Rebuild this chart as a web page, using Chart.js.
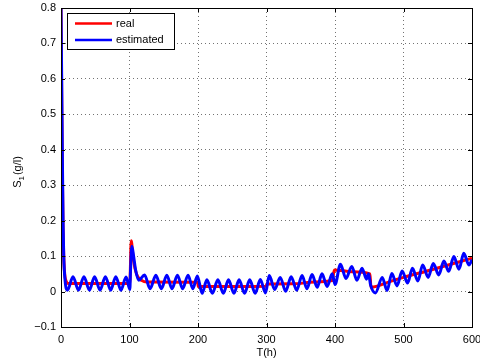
<!DOCTYPE html>
<html lang="en">
<head>
    <meta charset="UTF-8">
    <title>S1 real vs estimated</title>
    <script src="https://cdn.jsdelivr.net/npm/chart.js"></script>
    <style>
        html, body { margin: 0; padding: 0; background: #ffffff; }
        #wrap { width: 480px; height: 360px; }
    </style>
</head>
<body>
<div id="wrap"><canvas id="s1Chart" width="480" height="360"></canvas></div>
<script>
    // real substrate concentration
    const realT = [0, 1, 2, 3, 4, 5, 6, 8, 10, 100.5, 102.5, 105, 108, 112, 118, 125, 199.5, 200.5,
        299.5, 300.5, 340, 370, 396, 399, 425, 451, 452.5, 480, 500, 540, 578, 600];
    const realS = [0.8, 0.55, 0.33, 0.18, 0.1, 0.06, 0.04, 0.027, 0.023, 0.023, 0.143, 0.1, 0.065, 0.042, 0.031, 0.027, 0.026, 0.014,
        0.015, 0.021, 0.022, 0.027, 0.031, 0.061, 0.056, 0.05, 0.012, 0.028, 0.04, 0.061, 0.082, 0.094];

    // estimated (oscillating) - peaks and troughs
    const estT = [0, 1, 2, 3, 4, 6, 9.5, 17.5, 25.5, 33.5, 41.5, 49, 57, 64.8, 72.5, 80, 87.5, 95, 100.5,
        101.5, 103.5, 106, 109, 113.5, 122, 130, 138.5, 146.5, 154.5, 162, 170, 177.5, 185.5, 192.5, 199, 206,
        213, 221, 229, 237, 244.5, 252.5, 260, 268, 275.5, 283.5, 291, 298.5,
        304, 312, 320, 328, 336, 344, 352, 359, 366.5, 374, 381, 388.5, 396, 400,
        408, 416, 424.5, 432, 439.5, 446, 449, 452, 459, 469, 476, 483, 490.5, 498, 506,
        513, 521, 528, 536, 543.5, 551.5, 559, 566, 573.5, 581, 588, 595.5, 600];
    const estS = [0.8, 0.6, 0.38, 0.2, 0.1, 0.03, 0.004, 0.042, 0.004, 0.042, 0.004, 0.042, 0.004, 0.042, 0.004, 0.042, 0.004, 0.041, 0.006,
        0.06, 0.128, 0.1, 0.06, 0.032, 0.047, 0.008, 0.046, 0.008, 0.046, 0.008, 0.046, 0.008, 0.046, 0.008, 0.044, -0.005,
        0.033, -0.005, 0.033, -0.005, 0.033, -0.005, 0.033, -0.005, 0.033, -0.005, 0.034, -0.004,
        0.045, 0.006, 0.04, 0.001, 0.042, 0.004, 0.045, 0.008, 0.048, 0.012, 0.05, 0.014, 0.05, 0.02,
        0.077, 0.037, 0.071, 0.032, 0.066, 0.035, 0.05, 0.018, -0.004, 0.04, 0.003, 0.051, 0.016, 0.058, 0.024,
        0.066, 0.03, 0.075, 0.04, 0.079, 0.047, 0.086, 0.057, 0.099, 0.063, 0.108, 0.075, 0.09];

    const xTickValues = [0, 100, 200, 300, 400, 500, 600];
    const xTickLabels = ['0', '100', '200', '300', '400', '500', '600'];
    const yTickValues = [-0.1, 0, 0.1, 0.2, 0.3, 0.4, 0.5, 0.6, 0.7, 0.8];
    const yTickLabels = ['\u22120.1', '0', '0.1', '0.2', '0.3', '0.4', '0.5', '0.6', '0.7', '0.8'];

    const FONT = '"Liberation Sans", Arial, sans-serif';

    function toPoints(xs, ys) {
        return xs.map((x, i) => ({ x: x, y: ys[i] }));
    }

    // frame, inward ticks, boxed legend and the S1 label with subscript
    const matlabLook = {
        id: 'matlabLook',
        afterDraw(chart) {
            const ctx = chart.ctx;
            const a = chart.chartArea;
            const xs = chart.scales.x, ys = chart.scales.y;
            ctx.save();
            ctx.strokeStyle = '#000';
            ctx.lineWidth = 1;
            ctx.strokeRect(Math.round(a.left) + 0.5, Math.round(a.top) + 0.5,
                Math.round(a.right - a.left), Math.round(a.bottom - a.top));

            const tl = 4;
            ctx.beginPath();
            xTickValues.forEach(v => {
                const px = Math.round(xs.getPixelForValue(v)) + 0.5;
                ctx.moveTo(px, a.bottom); ctx.lineTo(px, a.bottom - tl);
                ctx.moveTo(px, a.top); ctx.lineTo(px, a.top + tl);
            });
            yTickValues.forEach(v => {
                const py = Math.round(ys.getPixelForValue(v)) + 0.5;
                ctx.moveTo(a.left, py); ctx.lineTo(a.left + tl, py);
                ctx.moveTo(a.right, py); ctx.lineTo(a.right - tl, py);
            });
            ctx.stroke();

            // legend box
            const bx = 67, by = 13, bw = 107, bh = 36;
            ctx.fillStyle = '#fff';
            ctx.fillRect(bx, by, bw, bh);
            ctx.strokeRect(bx + 0.5, by + 0.5, bw, bh);
            const items = [chart.data.datasets[1], chart.data.datasets[0]];
            ctx.font = '11px ' + FONT;
            ctx.textBaseline = 'middle';
            items.forEach((ds, i) => {
                const ly = by + 10.5 + i * 16.5;
                ctx.strokeStyle = ds.borderColor;
                ctx.lineWidth = 2.5;
                ctx.beginPath();
                ctx.moveTo(bx + 8, ly); ctx.lineTo(bx + 45, ly);
                ctx.stroke();
                ctx.fillStyle = '#000';
                ctx.fillText(ds.label, bx + 49, ly);
            });

            // y axis label  S1(g/l)
            ctx.translate(21, 172);
            ctx.rotate(-Math.PI / 2);
            ctx.fillStyle = '#000';
            ctx.textBaseline = 'alphabetic';
            const big = '11px ' + FONT, small = '8px ' + FONT;
            ctx.font = big; const wS = ctx.measureText('S').width; const wR = ctx.measureText('(g/l)').width;
            ctx.font = small; const w1 = ctx.measureText('1').width;
            let x0 = -(wS + w1 + 1 + wR) / 2;
            ctx.font = big; ctx.fillText('S', x0, 0);
            ctx.font = small; ctx.fillText('1', x0 + wS, 3);
            ctx.font = big; ctx.fillText('(g/l)', x0 + wS + w1 + 1, 0);
            ctx.restore();
        }
    };

    new Chart(document.getElementById('s1Chart').getContext('2d'), {
        type: 'line',
        data: {
            datasets: [
                {
                    label: 'estimated',
                    data: toPoints(estT, estS),
                    borderColor: '#0000ff',
                    borderWidth: 3,
                    pointRadius: 0,
                    cubicInterpolationMode: 'monotone',
                    fill: false,
                    order: 0
                },
                {
                    label: 'real',
                    data: toPoints(realT, realS),
                    borderColor: '#ff0000',
                    borderWidth: 3,
                    pointRadius: 0,
                    cubicInterpolationMode: 'monotone',
                    fill: false,
                    order: 1
                }
            ]
        },
        options: {
            responsive: false,
            animation: false,
            events: [],
            layout: { padding: { left: 0, top: 8, right: 8, bottom: 0 } },
            plugins: { legend: { display: false }, tooltip: { enabled: false } },
            scales: {
                x: {
                    type: 'linear',
                    min: 0, max: 600,
                    afterBuildTicks: s => { s.ticks = xTickValues.map(v => ({ value: v })); },
                    afterFit: s => { s.height = 33; s.paddingLeft = 0; s.paddingRight = 0; },
                    ticks: {
                        autoSkip: false, maxRotation: 0, padding: 6, color: '#000',
                        font: { family: FONT, size: 11 },
                        callback: (v, i) => xTickLabels[i]
                    },
                    grid: { color: 'rgba(0,0,0,0.55)', drawTicks: false, lineWidth: 1 },
                    border: { display: false, dash: [1, 3] },
                    title: { display: true, text: 'T(h)', color: '#000', padding: { top: 0, bottom: 0 },
                        font: { family: FONT, size: 11 } }
                },
                y: {
                    min: -0.1, max: 0.8,
                    afterBuildTicks: s => { s.ticks = yTickValues.map(v => ({ value: v })); },
                    afterFit: s => { s.width = 61; s.paddingTop = 0; s.paddingBottom = 0; },
                    ticks: {
                        autoSkip: false, padding: 5, color: '#000',
                        font: { family: FONT, size: 11 },
                        callback: (v, i) => yTickLabels[i]
                    },
                    grid: { color: 'rgba(0,0,0,0.55)', drawTicks: false, lineWidth: 1 },
                    border: { display: false, dash: [1, 3] }
                }
            }
        },
        plugins: [matlabLook]
    });
</script>
</body>
</html>
